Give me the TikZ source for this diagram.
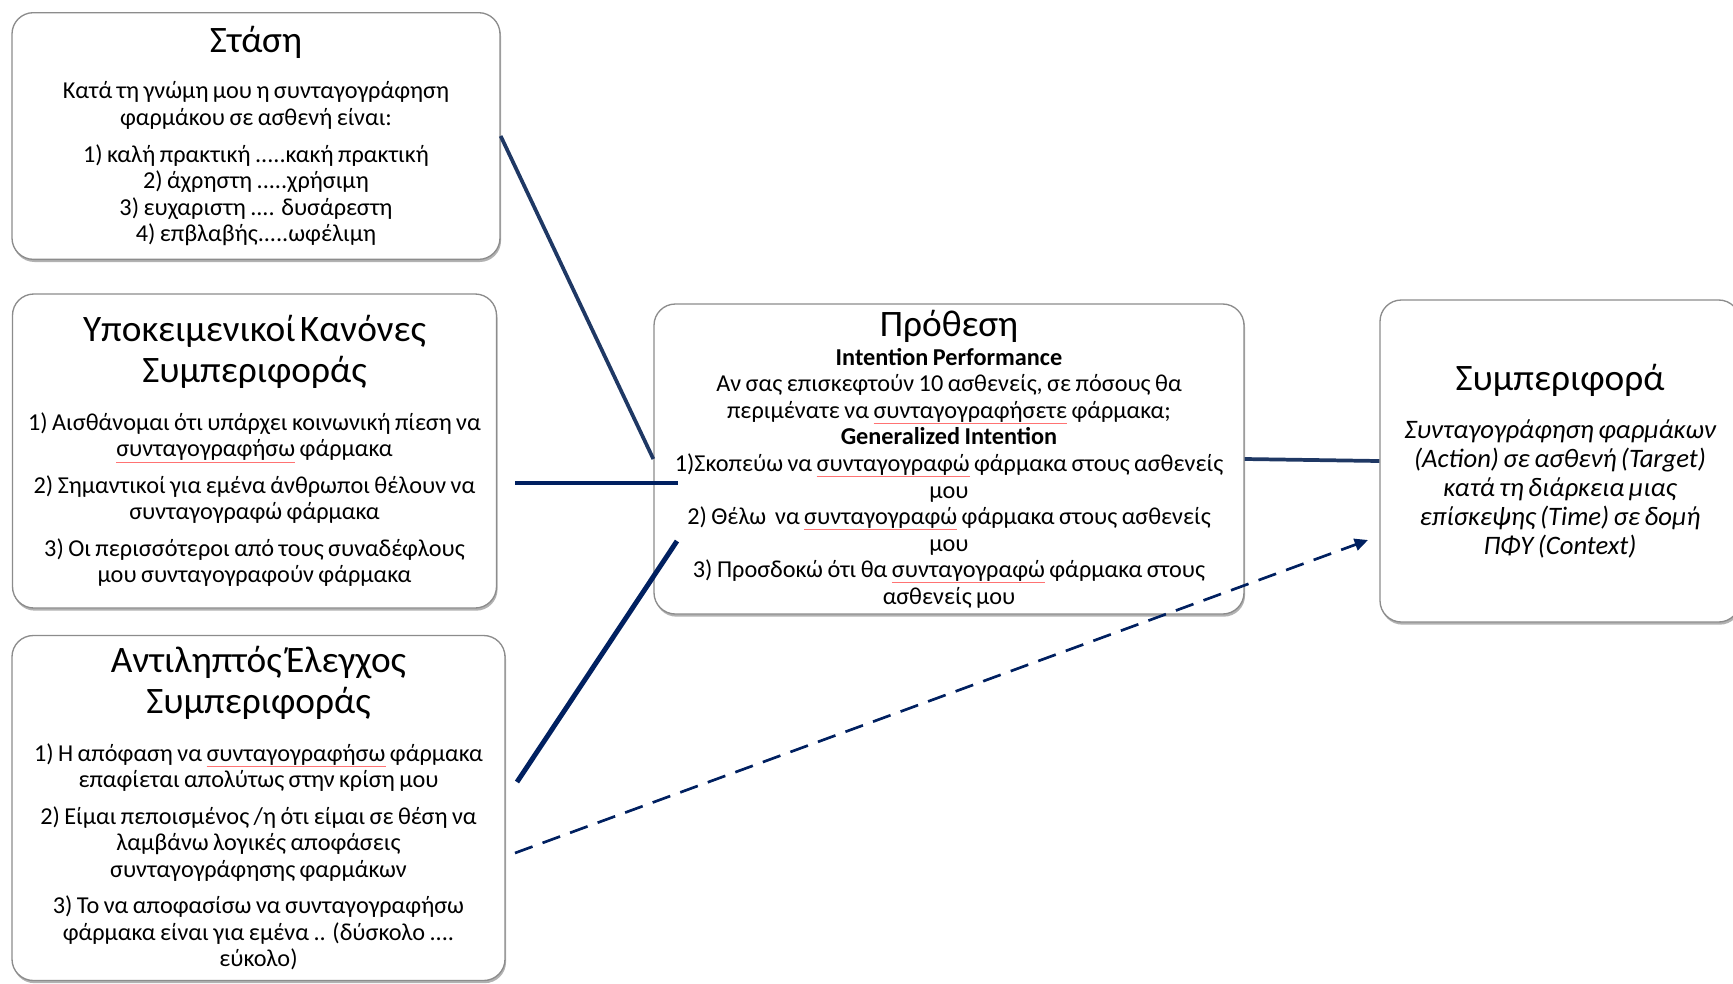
\documentclass[tikz,border=0pt]{standalone}
\usepackage{fontspec}
\setmainfont{Carlito}
\usetikzlibrary{shadows,arrows.meta}
\setlength\parindent{0pt}
\setlength\parskip{0pt}
\definecolor{navyA}{RGB}{31,56,100}
\definecolor{navyB}{RGB}{0,32,96}
\definecolor{boxedge}{RGB}{140,140,140}
\newsavebox\splbox
\newcommand\spl[1]{\leavevmode\sbox\splbox{#1}\rlap{\textcolor{red!55}{\rule[-0.45ex]{\wd\splbox}{0.3pt}}}\usebox\splbox}
\newcommand\ttl{\fontsize{28}{30.7}\selectfont}
\newcommand\bdy{\fontsize{18.2}{19.9}\selectfont}
\newcommand\pgap{\par\vspace{7.5pt}}
\tikzset{
  box/.style={draw=boxedge, line width=1pt, fill=white, rounded corners=16pt,
    align=center, inner xsep=0pt, inner ysep=0pt,
    drop shadow={shadow xshift=0.8pt, shadow yshift=-2pt, opacity=0.3, fill=black}},
  linkA/.style={draw=navyA, line width=2.8pt},
  linkB/.style={draw=navyB, line width=3.7pt},
  linkD/.style={draw=navyB, line width=2pt, dash pattern=on 14pt off 8pt,
    -{Triangle[length=10pt,width=9pt]}}
}
\begin{document}
\begin{tikzpicture}[x=0.75pt,y=-0.75pt]
\useasboundingbox (0,0) rectangle (1733,983);

\node[box, text width=366pt, minimum height=185pt] (att) at (256,136)
{\ttl Στάση\par\vspace{15pt}\bdy
Κατά τη γνώμη μου η συνταγογράφηση\\ φαρμάκου σε ασθενή είναι:\pgap
1) καλή πρακτική .....κακή πρακτική\\ 2) άχρηστη .....χρήσιμη\\
3) ευχαριστη .... δυσάρεστη\\ 4) επβλαβής.....ωφέλιμη\par};

\node[box, text width=363pt, minimum height=235.5pt] (norm) at (254.5,451)
{\ttl Υποκειμενικοί Κανόνες\\ Συμπεριφοράς\par\vspace{16pt}\bdy
1) Αισθάνομαι ότι υπάρχει κοινωνική πίεση να\\ \spl{συνταγογραφήσω} φάρμακα\pgap
2) Σημαντικοί για εμένα άνθρωποι θέλουν να\\ συνταγογραφώ φάρμακα\pgap
3) Οι περισσότεροι από τους συναδέφλους\\ μου συνταγογραφούν φάρμακα\par};

\node[box, text width=369.75pt, minimum height=258.75pt] (pbc) at (258.5,808)
{\ttl Αντιληπτός Έλεγχος\\ Συμπεριφοράς\par\vspace{16pt}\bdy
1) Η απόφαση να \spl{συνταγογραφήσω} φάρμακα\\ επαφίεται απολύτως στην κρίση μου\pgap
2) Είμαι πεποισμένος /η ότι είμαι σε θέση να\\ λαμβάνω λογικές αποφάσεις\\ συνταγογράφησης φαρμάκων\pgap
3) Το να αποφασίσω να συνταγογραφήσω\\ φάρμακα είναι για εμένα .. (δύσκολο ....\\ εύκολο)\par\vspace{-4pt}};

\node[box, text width=442.5pt, minimum height=232.5pt] (int) at (949,459)
{\ttl Πρόθεση\par\vspace{2pt}\bdy
\textbf{Intention Performance}\\
Αν σας επισκεφτούν 10 ασθενείς, σε πόσους θα\\
περιμένατε να \spl{συνταγογραφήσετε} φάρμακα;\\
\textbf{Generalized Intention}\\
1)Σκοπεύω να \spl{συνταγογραφώ} φάρμακα στους ασθενείς\\ μου\\
2) Θέλω\ \ να \spl{συνταγογραφώ} φάρμακα στους ασθενείς\\ μου\\
3) Προσδοκώ ότι θα \spl{συνταγογραφώ} φάρμακα στους\\ ασθενείς μου\par\vspace{-5pt}};

\node[box, text width=270pt, minimum height=241.5pt] (beh) at (1560,461)
{\ttl Συμπεριφορά\par\vspace{14.5pt}\fontsize{20}{21.75}\selectfont\itshape
Συνταγογράφηση φαρμάκων\\ (Action) σε ασθενή (Target)\\ κατά τη διάρκεια μιας\\
επίσκεψης (Time) σε δομή\\ ΠΦΥ (Context)\par};

\coordinate (n1) at (515,483);
\coordinate (n2) at (678,483);
\coordinate (p1) at (517,782);
\coordinate (p2) at (677,541);
\coordinate (d1) at (515,853);
\coordinate (d2) at (1368,540);

\draw[linkA] (att.east) -- (int.west);
\draw[linkB] (n1) -- (n2);
\draw[linkB] (p1) -- (p2);
\draw[linkA] (int.east) -- (beh.west);
\draw[linkD] (d1) -- (d2);
\end{tikzpicture}
\end{document}
